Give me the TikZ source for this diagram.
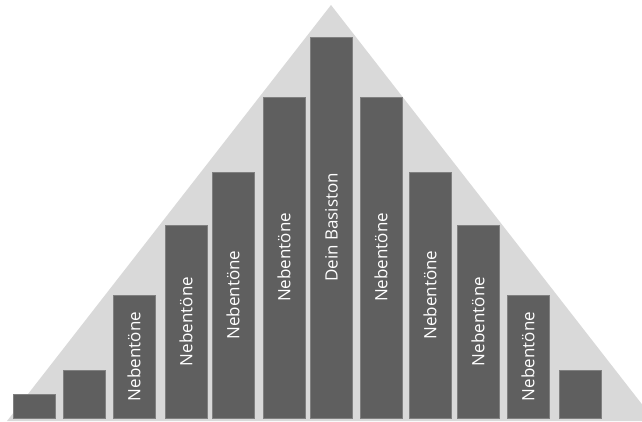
\documentclass[tikz,border=0pt]{standalone}
\usepackage{fontspec}
\setmainfont{Open Sans}
\usepackage{tikz}
\definecolor{grisfond}{RGB}{217,217,217}
\definecolor{grisbarre}{RGB}{95,95,95}
\definecolor{grisbord}{RGB}{128,128,128}

\begin{document}
\begin{tikzpicture}[x=1pt,y=-1pt,
  barre/.style={fill=grisbarre, draw=grisbord, line width=0.8, inner sep=0, rotate=90,
    minimum height=42, text=white, font=\fontsize{17}{17}\selectfont}]
\useasboundingbox (0,0) rectangle (642,421);
\clip (0,0) rectangle (642,421);
\fill[grisfond] (7,421) -- (331,5) -- (655,421) -- cycle;
\node[barre, minimum width=24] (b1) at (34,406) {};
\node[barre, minimum width=48] (b2) at (84,394) {};
\node[barre, minimum width=123] (b3) at (134,356.5) {Nebentöne};
\node[barre, minimum width=193] (b4) at (186,321.5) {Nebentöne};
\node[barre, minimum width=246] (b5) at (233,295) {Nebentöne};
\node[barre, minimum width=321] (b6) at (284,257.5) {Nebentöne};
\node[barre, minimum width=381] (b7) at (331.5,227.5) {Dein Basiston};
\node[barre, minimum width=321] (b8) at (381,257.5) {Nebentöne};
\node[barre, minimum width=246] (b9) at (430,295) {Nebentöne};
\node[barre, minimum width=193] (b10) at (478,321.5) {Nebentöne};
\node[barre, minimum width=123] (b11) at (528,356.5) {Nebentöne};
\node[barre, minimum width=48] (b12) at (580,394) {};
\end{tikzpicture}
\end{document}
